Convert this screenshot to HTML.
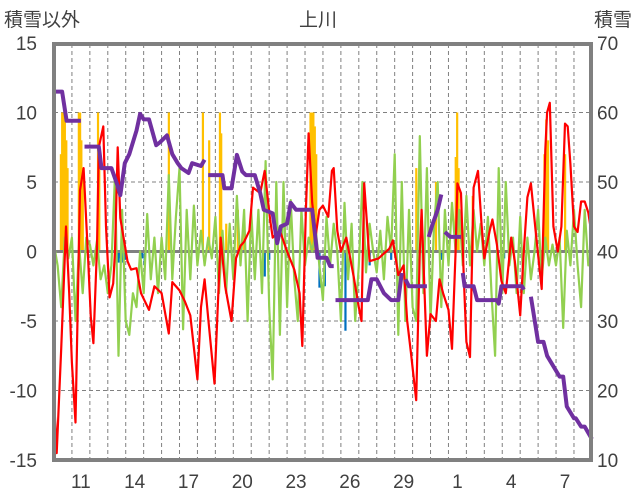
<!DOCTYPE html>
<html><head><meta charset="utf-8"><style>
body{margin:0;background:#fff;}
svg{display:block;font-family:"Liberation Sans","Noto Sans CJK JP",sans-serif;}
text{fill:#404040;font-size:19px;}
</style></head><body>
<svg id="chart" width="636" height="501" viewBox="0 0 636 501" xmlns="http://www.w3.org/2000/svg">
<text x="318" y="26" text-anchor="middle">上川</text>
<text x="4" y="26">積雪以外</text>
<text x="632" y="26" text-anchor="end">積雪</text>
<g id="grid"></g><g id="bars"></g><g id="zero"></g><g id="lines"></g><g id="frame"></g><g id="labels"></g>
</svg>
<script>
const leftTicks=[15,10,5,0,-5,-10,-15];
const rightTicks=[70,60,50,40,30,20,10];
const dayLabels=["11","14","17","20","23","26","29","1","4","7"];
const dayLabelPos=[1,4,7,10,13,16,19,22,25,28];
const redTimes=[0,0.15,0.4,0.67,0.85,1.0,1.2,1.45,1.65,1.9,2.05,2.2,2.4,2.5,2.75,2.9,3.1,3.3,3.4,3.55,3.7,4.1,4.3,4.6,4.85,5.3,5.6,6.0,6.4,6.6,7.0,7.3,7.6,8.0,8.2,8.4,8.6,8.95,9.3,9.55,9.7,9.9,10.15,10.4,10.6,10.9,11.1,11.5,11.75,12.05,12.2,12.6,13.0,13.4,13.7,13.85,14.05,14.2,14.4,14.6,14.8,15.0,15.3,15.5,15.6,15.8,16.0,16.3,16.7,17.0,17.15,17.3,17.6,18.1,18.7,18.9,19.2,19.5,19.7,19.9,20.2,20.4,20.5,20.7,20.8,21.0,21.3,21.5,21.7,22.0,22.2,22.4,22.5,22.7,22.85,23.0,23.2,23.4,23.65,23.85,24.0,24.3,24.45,24.7,24.95,25.2,25.5,25.7,26.0,26.2,26.4,26.6,26.9,27.2,27.4,27.5,27.65,27.85,28.1,28.3,28.5,28.65,28.8,29.0,29.2,29.4,29.6,29.8,30.0];
const redValues=[-10.5,-14.5,-7,1.8,-3,-8,-12.3,4.4,6,-0.5,-4.7,-6.6,0.3,7.5,9,1.8,-3.3,-2.3,0,7.5,2.4,-0.7,-1.3,-1.2,-3,-4.2,-2.5,-3,-5.9,-2.2,-2.8,-3.6,-4.6,-9.2,-4,-2,-4.8,-9.5,1,-2.5,-3.6,-5,-0.5,0.4,0.7,1.5,4.6,4.2,5.8,2.3,1,1.5,0,-1.3,-3,-6.8,3,8.5,3.5,1.2,3,3.3,2.5,5.8,6,1.5,0,1,-1.7,-4,-5,4.9,-0.7,-0.5,0.2,0.8,-1.7,-1,-5,-7.2,-10.7,0,3,-4.2,-7.5,-4.5,-5,-2,-3,-4.2,-7,0,4.9,4.2,-1.7,-6.5,-7.6,4.6,5.8,1.9,-0.5,1.5,2.3,0.5,-2.1,-3,1,-0.7,-4.6,0,3.9,4.9,1,-2.7,7.3,10,10.7,1.8,0,1.8,9.2,9,6.3,1.8,1.4,3.6,3.6,2.8,1.1];
const greenStep=0.2;
const greenValues=[0.5,-1,-4,1,-0.5, 1,-5,0.5,-3,1, 0.5,-1,0.8,-2,-1, -3,-1,5.5,-7.5,3, -5,-6,-3,-4,0, -3,2.7,-2,1,-3, 1,-2,5.5,-2,2.5, 6,-5.6,3,-2,3.3, -1,1.5,-1,1,-0.5, 2.5,-3,1.5,-3,2, -2,4,-1,3,-5, 3,-2,3,-3,6.5, -4,-9.2,5,-6,5, -4,3.7,-2,-5,3, -1,1,0,1.5,-1, -3.5,2.5,-1,2,0, -5,3.5,-2,2,-5, -1,5,-1.5,2,0, -1.5,1.5,-2,2.5,0, 7,-6,5,-5,3, -4,-5,8.3,-3,6, -5,2,5,-4,3, -1,3.5,0,3,-1, 4,-1,3,0,2, -1,2.5,-3,-7.5,6, -3,5,-1,1,-3, 2.5,-3,1,-2,0, 3,-2,1,-1,0.5, -1,1,-5.5,1.5,-1, 3,-1,-4,3,-1, 0];
const precipTimes=[0.38,0.45,0.52,0.6,0.68,0.75,1.38,1.45,1.52,1.6,2.45,2.52,6.4,8.3,8.65,9.25,9.32,9.6,10.25,10.6,14.3,14.38,14.46,14.54,14.62,20.2,21.3,22.4,22.48,22.56,23.35,27.35,27.45,27.55,28.5];
const precipValues=[7,10,10,10,8,6,10,10,8,6,10,7,10,10,8,10,8.5,2,3,2,10,10,10,9,7,6,5,6.8,10,6,4,7,9.5,8,7];
const negTimes=[3.6,3.7,3.85,3.95,4.9,5.05,11.75,12.0,14.8,15.1,16.25,17.6,18.8,21.6,25.1];
const negValues=[-0.8,-0.5,-0.8,-0.6,-0.5,-1,-1.8,-0.6,-2.6,-2.5,-5.7,-1,-0.6,-0.6,-0.5];
const snowTimes=[0,0.45,0.7,1.5,1.6,1.7,2.5,2.65,3.2,3.5,3.7,3.95,4.2,4.6,4.8,5.0,5.3,5.7,5.9,6.3,6.6,6.9,7.1,7.5,7.7,8.2,8.4,8.5,8.6,9.4,9.5,9.9,10.2,10.5,10.7,11.2,11.5,11.7,12.2,12.45,12.65,13.0,13.2,13.5,14.4,14.7,15.2,15.4,15.6,15.65,15.7,17.5,17.7,18.0,18.4,18.8,19.2,19.4,19.5,19.6,19.8,20.8,20.85,20.9,21.1,21.4,21.6,21.7,21.8,22.1,22.3,22.7,22.75,22.8,22.9,23.4,23.6,24.7,24.8,24.95,26.1,26.2,26.3,26.6,27.0,27.3,27.5,28.2,28.4,28.6,29.0,29.1,29.4,29.6,30.0];
const snowValues=[63,63,58.8,58.8,null,55.1,55.1,52,52,49.8,48.1,52.7,54,57.4,59.8,59,59,55.3,55.7,56.7,54,52.7,52,51.3,52.7,52.3,53.2,null,51,51,49.1,49.1,53.9,51.5,51,51,48.4,46,45.5,41.2,43.6,44,47,46,46,39.1,39.1,37.9,37.9,null,33,33,36,36,34,33,33,36.9,null,36,35,35,null,42.1,43.8,46,48.2,null,42.8,42.1,42.1,42.1,null,36.9,35,35,33,33,32.5,35,35,34.5,null,33.5,27,27,25,22,22,17.7,16,16,14.8,14.8,13,13];

const X0=54, DX=17.93, PL=54, PR=591, PT=44, PB=460;
const x=t=>X0+t*DX;
const yL=v=>251.5-v*13.9;
const yR=s=>460-(s-10)*6.95;
const NS="http://www.w3.org/2000/svg";
function mk(tag,attrs,parent){const e=document.createElementNS(NS,tag);for(const k in attrs)e.setAttribute(k,attrs[k]);parent.appendChild(e);return e;}
const G=id=>document.getElementById(id);

// gridlines
for(let d=1;d<30;d++){
  const l=mk('line',{x1:x(d),x2:x(d),y1:PT,y2:PB,stroke:'#808080','stroke-width':1,'stroke-dasharray':'4,3'},G('grid'));
  
  
}
leftTicks.forEach(v=>{
  if(v===15||v===-15||v===0)return;
  const l=mk('line',{x1:PL,x2:PR,y1:yL(v),y2:yL(v),stroke:'#808080','stroke-width':1,'stroke-dasharray':'4,3'},G('grid'));
  
  
});
// precip bars
precipTimes.forEach((t,i)=>{
  const v=precipValues[i];
  const r=mk('rect',{x:x(t)-1,y:yL(v),width:2.2,height:yL(0)-yL(v),fill:'#ffc000'},G('bars'));
  
  
});
negTimes.forEach((t,i)=>{
  const v=negValues[i];
  const r=mk('rect',{x:x(t)-1,y:yL(0),width:2.2,height:yL(v)-yL(0),fill:'#0070c0'},G('bars'));
  
  
});
const z=mk('line',{x1:PL,x2:PR,y1:yL(0),y2:yL(0),stroke:'#808080','stroke-width':3},G('zero'));


// green
let gp=greenValues.map((v,i)=>(i?'L':'M')+x(i*greenStep).toFixed(1)+','+yL(v).toFixed(1)).join('');
const gl=mk('path',{d:gp,fill:'none',stroke:'#92d050','stroke-width':2.2,'stroke-linejoin':'round'},G('lines'));


// red
const n=Math.min(redTimes.length,redValues.length);
let rp='';for(let i=0;i<n;i++)rp+=(i?'L':'M')+x(redTimes[i]).toFixed(1)+','+yL(redValues[i]).toFixed(1);
const rl=mk('path',{d:rp,fill:'none',stroke:'#ff0000','stroke-width':2.2,'stroke-linejoin':'round'},G('lines'));


// snow
let sp='',pen=false;
for(let i=0;i<Math.min(snowTimes.length,snowValues.length);i++){
  const s=snowValues[i];
  if(s===null){pen=false;continue;}
  sp+=(pen?'L':'M')+x(snowTimes[i]).toFixed(1)+','+yR(s).toFixed(1);pen=true;
}
const sl=mk('path',{d:sp,fill:'none',stroke:'#7030a0','stroke-width':4,'stroke-linejoin':'round'},G('lines'));


// frame
const fr=mk('rect',{x:PL,y:PT,width:PR-PL,height:PB-PT,fill:'none',stroke:'#808080','stroke-width':4},G('frame'));


// labels
leftTicks.forEach(v=>{
  const t=mk('text',{x:37,y:yL(v)+7,'text-anchor':'end'},G('labels'));t.textContent=v;
  
  
});
rightTicks.forEach(v=>{
  const t=mk('text',{x:597,y:yR(v)+7},G('labels'));t.textContent=v;
  
  
});
dayLabels.forEach((s,i)=>{
  const t=mk('text',{x:x(dayLabelPos[i]+0.5),y:488,'text-anchor':'middle'},G('labels'));t.textContent=s;
  
  
});
</script>
</body></html>
